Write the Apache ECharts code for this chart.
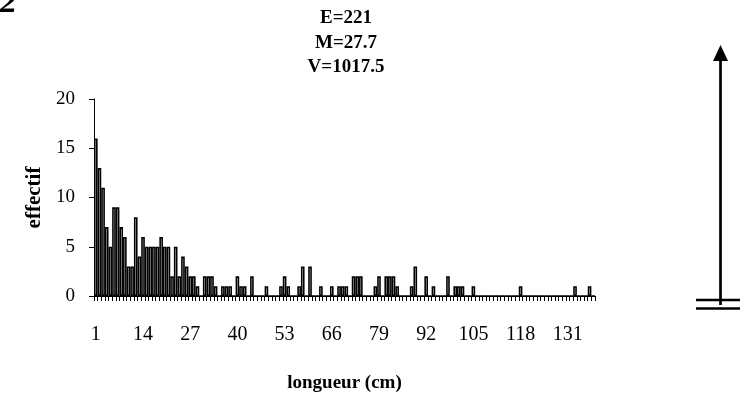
<!DOCTYPE html>
<html><head><meta charset="utf-8">
<script src="https://cdn.jsdelivr.net/npm/echarts@6/dist/echarts.min.js"></script>
<style>html,body{margin:0;padding:0;background:#fff}#c{width:740px;height:398px}</style>
</head><body><div id="c"></div>
<script>
// length classes (cm), 1..138
const categories = [];
for (let i = 1; i <= 138; i++) categories.push(String(i));
// counts per length class
const counts = [
 16,13,11,7,5,9,9,7,6,3,
 3,8,4,6,5,5,5,5,6,5,
 5,2,5,2,4,3,2,2,1,0,
 2,2,2,1,0,1,1,1,0,2,
 1,1,0,2,0,0,0,1,0,0,
 0,1,2,1,0,0,1,3,0,3,
 0,0,1,0,0,1,0,1,1,1,
 0,2,2,2,0,0,0,1,2,0,
 2,2,2,1,0,0,0,1,3,0,
 0,2,0,1,0,0,0,2,0,1,
 1,1,0,0,1,0,0,0,0,0,
 0,0,0,0,0,0,0,1,0,0,
 0,0,0,0,0,0,0,0,0,0,
 0,0,1,0,0,0,1,0
];
const statLines = ['E=221', 'M=27.7', 'V=1017.5'];
const yTicks = [0, 5, 10, 15, 20];
const xName = 'longueur (cm)';
const yName = 'effectif';
const panelLabel = '2';

const F = 'Liberation Serif, Times New Roman, serif';
const chart = echarts.init(document.getElementById('c'), null, {renderer: 'canvas'});
chart.setOption({
  animation: false,
  backgroundColor: '#fff',
  grid: {left: 94, right: 145, top: 99, bottom: 97, containLabel: false},
  title: {
    text: statLines.join('\n'),
    left: 346, top: 6, padding: 0, textAlign: 'center',
    textStyle: {fontFamily: F, fontWeight: 'bold', fontSize: 19, lineHeight: 24.5, color: '#000'}
  },
  xAxis: {
    type: 'category', data: categories,
    name: xName, nameLocation: 'middle', nameGap: 78,
    nameTextStyle: {fontFamily: F, fontWeight: 'bold', fontSize: 19, color: '#000'},
    axisLine: {lineStyle: {color: '#000', width: 1}},
    axisTick: {show: true, interval: 0, length: 5, lineStyle: {color: '#000', width: 1}},
    axisLabel: {interval: 12, margin: 29, fontFamily: F, fontSize: 20, color: '#000'},
    splitLine: {show: false}
  },
  yAxis: {
    type: 'value', min: 0, max: 20, interval: 5,
    name: yName, nameLocation: 'middle', nameGap: 43, nameRotate: 90,
    nameTextStyle: {fontFamily: F, fontWeight: 'bold', fontSize: 21, color: '#000'},
    axisLine: {show: true, lineStyle: {color: '#000', width: 1}},
    axisTick: {show: true, length: 5, lineStyle: {color: '#000'}},
    axisLabel: {margin: 19, fontFamily: F, fontSize: 19, color: '#000',
      formatter: v => yTicks.indexOf(v) >= 0 ? String(v) : ''},
    splitLine: {show: false}
  },
  series: [{
    type: 'bar', data: counts, barCategoryGap: '0%',
    itemStyle: {color: '#fff', borderColor: '#000', borderWidth: 1.6}
  }],
  graphic: [
    {type: 'text', left: 0, top: -14, style: {text: panelLabel, font: 'italic bold 34px ' + F, fill: '#000'}},
    {type: 'line', shape: {x1: 720.5, y1: 305, x2: 720.5, y2: 58}, style: {stroke: '#000', lineWidth: 2.7}},
    {type: 'polygon', shape: {points: [[720.5, 45], [713, 61], [728, 61]]}, style: {fill: '#000'}},
    {type: 'line', shape: {x1: 696, y1: 300, x2: 740, y2: 300}, style: {stroke: '#000', lineWidth: 2.7}},
    {type: 'line', shape: {x1: 696, y1: 308.5, x2: 740, y2: 308.5}, style: {stroke: '#000', lineWidth: 2.7}}
  ]
});
</script></body></html>
